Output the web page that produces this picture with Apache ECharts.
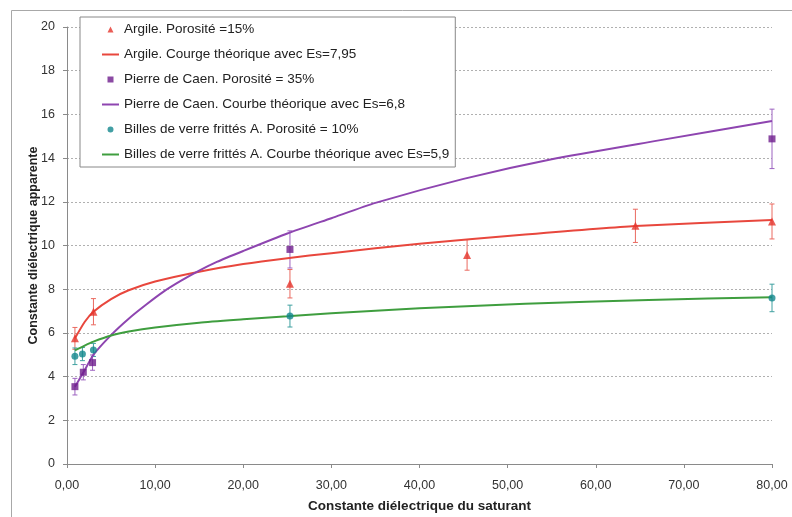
<!DOCTYPE html>
<html>
<head>
<meta charset="utf-8">
<script src="https://cdn.jsdelivr.net/npm/echarts@6/dist/echarts.min.js"></script>
<style>html,body{margin:0;padding:0;background:#fff;}#c{width:792px;height:517px;}</style>
</head>
<body>
<div id="c"></div>
<script>
// Measured points
const xArgile = [0.9, 3.0, 25.3, 45.4, 64.5, 80];
const yArgile = [5.75, 6.97, 8.25, 9.57, 10.9, 11.1];
const eArgile = [0.5, 0.6, 0.65, 0.7, 0.76, 0.8];
const xCaen = [0.9, 1.85, 2.9, 25.3, 80];
const yCaen = [3.54, 4.2, 4.64, 9.82, 14.88];
const eCaen = [0.38, 0.35, 0.35, 0.85, 1.36];
const xBilles = [0.9, 1.75, 3.0, 25.3, 80];
const yBilles = [4.93, 5.03, 5.22, 6.77, 7.6];
const eBilles = [0.38, 0.3, 0.3, 0.5, 0.63];

// Theoretical curves
const cxArgile = [0.9, 2, 3, 5, 7, 10, 15, 20, 25, 30, 40, 52, 64.5, 80];
const cyArgile = [5.75, 6.5, 6.97, 7.55, 7.95, 8.35, 8.8, 9.15, 9.42, 9.65, 10.08, 10.5, 10.89, 11.17];
const cxCaen = [0.9, 1.9, 3, 5, 7, 9, 11, 13, 15, 17, 20, 25, 30, 35, 45, 55, 67, 80];
const cyCaen = [3.54, 4.22, 5.0, 5.9, 6.65, 7.3, 7.9, 8.4, 8.85, 9.25, 9.75, 10.55, 11.25, 11.95, 13.05, 13.95, 14.8, 15.7];
const cxBilles = [0.9, 2, 3, 5, 7, 10, 15, 20, 25, 30, 40, 52, 66, 80];
const cyBilles = [5.2, 5.42, 5.6, 5.88, 6.06, 6.25, 6.47, 6.62, 6.76, 6.9, 7.13, 7.33, 7.51, 7.63];

const names = [
  'Argile. Porosité =15%',
  'Argile. Courge théorique avec Es=7,95',
  'Pierre de Caen. Porosité = 35%',
  'Pierre de Caen. Courbe théorique avec Es=6,8',
  'Billes de verre frittés A. Porosité = 10%',
  'Billes de verre frittés A. Courbe théorique avec Es=5,9'
];
const xTicks = [0, 10, 20, 30, 40, 50, 60, 70, 80];

const zip = (a, b) => a.map((v, i) => [v, b[i]]);
const zip3 = (a, b, c) => a.map((v, i) => [v, b[i], c[i]]);

function errSeries(data, color) {
  return {
    type: 'custom',
    silent: true,
    z: 1,
    data: data,
    renderItem: function (params, api) {
      const x = api.value(0), y = api.value(1), e = api.value(2);
      const top = api.coord([x, y + e]);
      const bot = api.coord([x, y - e]);
      const w = 2.5;
      const st = { stroke: color, lineWidth: 1 };
      return {
        type: 'group',
        children: [
          { type: 'line', shape: { x1: top[0], y1: top[1], x2: bot[0], y2: bot[1] }, style: st },
          { type: 'line', shape: { x1: top[0] - w, y1: top[1], x2: top[0] + w, y2: top[1] }, style: st },
          { type: 'line', shape: { x1: bot[0] - w, y1: bot[1], x2: bot[0] + w, y2: bot[1] }, style: st }
        ]
      };
    }
  };
}

const cRed = '#e5352c', cRedLine = '#e8473d', cPur = '#6e1d8c', cPurLine = '#8e45b0', cTeal = '#13878d', cGreen = '#3f9e3f';
const iconLine = 'path://M0,0 L17,0 L17,2 L0,2 Z';
const iconTri = 'path://M4,0 L8,8 L0,8 Z';
const iconSq = 'path://M0,0 L10,0 L10,10 L0,10 Z';
const iconCirc = 'path://M5,0 A5,5 0 1,1 4.99,0 Z';
const legendIcons = [iconTri, iconLine, iconSq, iconLine, iconCirc, iconLine];

const chart = echarts.init(document.getElementById('c'));
chart.setOption({
  animation: false,
  backgroundColor: '#fff',
  graphic: [{
    type: 'rect', left: 9, top: 8, silent: true,
    shape: { width: 800, height: 520 },
    style: { fill: 'none', stroke: '#a8a8a8', lineWidth: 1 }
  }],
  grid: { left: 67, right: 20, top: 27, bottom: 53, outerBoundsMode: 'none' },
  legend: {
    orient: 'vertical',
    left: 80, top: 17,
    padding: [5, 6, 5, 22],
    borderColor: '#888', borderWidth: 1,
    backgroundColor: '#fff',
    itemWidth: 17, itemHeight: 6, itemGap: 10,
    symbolKeepAspect: true,
    textStyle: { fontFamily: 'Liberation Sans', fontSize: 13.5, color: '#222', lineHeight: 15 },
    data: names.map((n, i) => ({ name: n, icon: legendIcons[i] }))
  },
  xAxis: {
    type: 'value', min: 0, max: 80, interval: 10,
    name: 'Constante diélectrique du saturant',
    nameLocation: 'middle', nameGap: 35, nameMoveOverlap: false,
    nameTextStyle: { fontFamily: 'Liberation Sans', fontSize: 13.5, fontWeight: 'bold', color: '#222' },
    axisLine: { lineStyle: { color: '#8a8a8a' } },
    axisTick: { show: true, length: 4, lineStyle: { color: '#8a8a8a' }, customValues: xTicks },
    axisLabel: { margin: 15, fontFamily: 'Liberation Sans', fontSize: 12.5, color: '#333',
      customValues: xTicks, formatter: v => v.toFixed(2).replace('.', ',') },
    splitLine: { show: false }
  },
  yAxis: {
    type: 'value', min: 0, max: 20, interval: 2,
    name: 'Constante diélectrique apparente',
    nameLocation: 'middle', nameGap: 27, nameMoveOverlap: false,
    nameTextStyle: { fontFamily: 'Liberation Sans', fontSize: 12.5, fontWeight: 'bold', color: '#222' },
    axisLine: { show: true, lineStyle: { color: '#8a8a8a' } },
    axisTick: { show: true, length: 4, lineStyle: { color: '#8a8a8a' } },
    axisLabel: { margin: 12, fontFamily: 'Liberation Sans', fontSize: 12.5, color: '#333' },
    splitLine: { show: true, lineStyle: { color: '#b0b0b0', type: [2, 2], width: 1 } }
  },
  series: [
    errSeries(zip3(xArgile, yArgile, eArgile), '#ea6a60'),
    errSeries(zip3(xCaen, yCaen, eCaen), '#9c62c0'),
    errSeries(zip3(xBilles, yBilles, eBilles), '#3fa0a0'),
    { name: names[1], type: 'line', data: zip(cxArgile, cyArgile), smooth: 0.2,
      showSymbol: false, symbol: 'none', lineStyle: { color: cRedLine, width: 2 }, itemStyle: { color: cRedLine }, z: 2 },
    { name: names[3], type: 'line', data: zip(cxCaen, cyCaen), smooth: 0.2,
      showSymbol: false, symbol: 'none', lineStyle: { color: cPurLine, width: 2 }, itemStyle: { color: cPurLine }, z: 2 },
    { name: names[5], type: 'line', data: zip(cxBilles, cyBilles), smooth: 0.2,
      showSymbol: false, symbol: 'none', lineStyle: { color: cGreen, width: 2 }, itemStyle: { color: cGreen }, z: 2 },
    { name: names[0], type: 'scatter', data: zip(xArgile, yArgile), symbol: 'triangle', symbolSize: 8,
      itemStyle: { color: cRed }, z: 3 },
    { name: names[2], type: 'scatter', data: zip(xCaen, yCaen), symbol: 'rect', symbolSize: 7,
      itemStyle: { color: cPur }, z: 3 },
    { name: names[4], type: 'scatter', data: zip(xBilles, yBilles), symbol: 'circle', symbolSize: 7,
      itemStyle: { color: cTeal }, z: 3 }
  ]
});
</script>
</body>
</html>
